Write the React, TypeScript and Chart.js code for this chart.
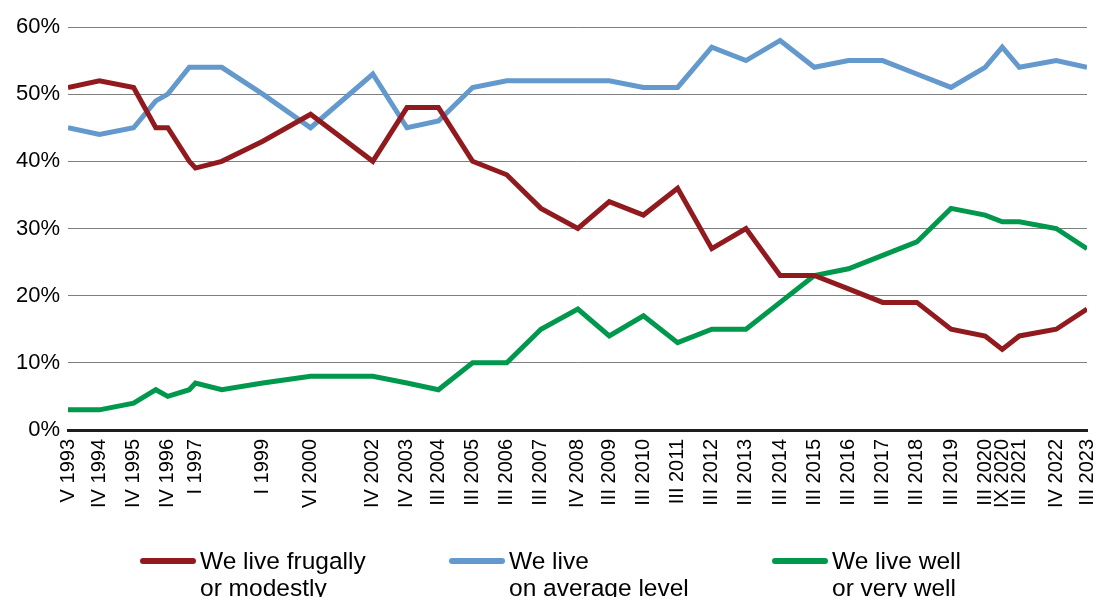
import React, { useEffect, useRef } from "react";
import { Chart, registerables } from "chart.js";

Chart.register(...registerables);

// Survey waves (Roman numeral month + year)
const periods = [
  "V 1993", "IV 1994", "IV 1995", "XII 1995", "IV 1996", "XII 1996", "I 1997", "XI 1997",
  "I 1999", "VI 2000", "IV 2002", "IV 2003", "III 2004", "III 2005", "III 2006", "III 2007",
  "IV 2008", "III 2009", "III 2010", "III 2011", "III 2012", "III 2013", "III 2014", "III 2015",
  "III 2016", "III 2017", "III 2018", "III 2019", "III 2020", "IX 2020", "III 2021", "IV 2022",
  "III 2023",
];

// Time position of each wave (decimal year)
const waveDates = [
  1993.35, 1994.27, 1995.27, 1995.92, 1996.27, 1996.9, 1997.08, 1997.85,
  1999.05, 2000.45, 2002.27, 2003.27, 2004.19, 2005.19, 2006.19, 2007.19,
  2008.27, 2009.19, 2010.19, 2011.19, 2012.19, 2013.19, 2014.19, 2015.19,
  2016.19, 2017.19, 2018.19, 2019.19, 2020.19, 2020.69, 2021.19, 2022.27,
  2023.17,
];

// Waves that carry a label on the x axis
const tickLabels = [
  "V 1993", "IV 1994", "IV 1995", "IV 1996", "I 1997", "I 1999", "VI 2000", "IV 2002",
  "IV 2003", "III 2004", "III 2005", "III 2006", "III 2007", "IV 2008", "III 2009", "III 2010",
  "III 2011", "III 2012", "III 2013", "III 2014", "III 2015", "III 2016", "III 2017", "III 2018",
  "III 2019", "III 2020", "IX 2020", "III 2021", "IV 2022", "III 2023",
];

const frugal = [51, 52, 51, 45, 45, 40, 39, 40, 43, 47, 40, 48, 48, 40, 38, 33, 30, 34, 32, 36, 27, 30, 23, 23, 21, 19, 19, 15, 14, 12, 14, 15, 18];
const average = [45, 44, 45, 49, 50, 54, 54, 54, 50, 45, 53, 45, 46, 51, 52, 52, 52, 52, 51, 51, 57, 55, 58, 54, 55, 55, 53, 51, 54, 57, 54, 55, 54];
const well = [3, 3, 4, 6, 5, 6, 7, 6, 7, 8, 8, 7, 6, 10, 10, 15, 18, 14, 17, 13, 15, 15, 19, 23, 24, 26, 28, 33, 32, 31, 31, 30, 27];

const yTicks = [0, 10, 20, 30, 40, 50, 60];

const seriesNames = [
  ["We live frugally", "or modestly"],
  ["We live", "on average level"],
  ["We live well", "or very well"],
];
const seriesColors = ["#901a1e", "#6399cd", "#00984c"];

const FONT = "'Liberation Sans', Arial, Helvetica, sans-serif";

function dateOf(label: string): number {
  return waveDates[periods.indexOf(label)];
}

export default function App() {
  const ref = useRef<HTMLCanvasElement | null>(null);

  useEffect(() => {
    if (!ref.current) return;
    const mk = (vals: number[]) => vals.map((v, i) => ({ x: waveDates[i], y: v }));
    const series = [frugal, average, well];
    const chart = new Chart(ref.current, {
      type: "line",
      data: {
        datasets: series.map((s, i) => ({
          label: seriesNames[i].join(" "),
          data: mk(s),
          borderColor: seriesColors[i],
          backgroundColor: seriesColors[i],
          borderWidth: 5,
          pointRadius: 0,
          pointHoverRadius: 0,
          tension: 0,
          fill: false,
          borderJoinStyle: "miter",
        })),
      },
      options: {
        responsive: false,
        animation: false,
        events: [],
        layout: { padding: { top: 27, right: 8, left: 0, bottom: 0 } },
        plugins: {
          legend: { display: false },
          tooltip: { enabled: false },
          title: { display: false },
        },
        scales: {
          x: {
            type: "linear",
            min: waveDates[0],
            max: waveDates[waveDates.length - 1],
            grid: { display: false, drawTicks: false },
            border: { display: true, color: "#1e1e1e", width: 3 },
            afterBuildTicks: (scale: any) => {
              scale.ticks = tickLabels.map((t) => ({ value: dateOf(t) }));
            },
            afterFit: (scale: any) => {
              scale.height = 597 - 430;
              scale.paddingLeft = 0;
              scale.paddingRight = 0;
            },
            ticks: {
              autoSkip: false,
              minRotation: 90,
              maxRotation: 90,
              padding: 9,
              color: "#000",
              font: { family: FONT, size: 20 },
              callback: (_v: any, i: number) => tickLabels[i],
            },
          },
          y: {
            min: 0,
            max: 60,
            grid: {
              drawTicks: false,
              color: (ctx: any) => (ctx.tick && ctx.tick.value === 0 ? "rgba(0,0,0,0)" : "#7f7f7f"),
              lineWidth: 1,
            },
            border: { display: false },
            afterBuildTicks: (scale: any) => {
              scale.ticks = yTicks.map((v) => ({ value: v }));
            },
            afterFit: (scale: any) => {
              scale.width = 68;
            },
            ticks: {
              padding: 8,
              color: "#000",
              font: { family: FONT, size: 22 },
              callback: (v: any) => v + "%",
            },
          },
        },
      },
    });
    return () => chart.destroy();
  }, []);

  const legendLeft = [140, 449, 772];

  return (
    <div style={{ position: "fixed", left: 0, top: 0, width: 1095, height: 597, background: "#fff", overflow: "hidden" }}>
      <canvas ref={ref} width={1095} height={597} style={{ position: "absolute", left: 0, top: 0, width: 1095, height: 597 }} />
      {seriesNames.map((lines, i) => (
        <div
          key={i}
          style={{ position: "absolute", left: legendLeft[i], top: 547, display: "flex", alignItems: "flex-start" }}
        >
          <span
            style={{ display: "block", width: 56, height: 6, borderRadius: 3, background: seriesColors[i], marginTop: 10.5, marginRight: 4 }}
          />
          <div style={{ fontFamily: FONT, fontSize: 24.5, lineHeight: "27px", color: "#000", whiteSpace: "nowrap" }}>
            {lines.map((l, j) => (
              <div key={j}>{l}</div>
            ))}
          </div>
        </div>
      ))}
    </div>
  );
}
